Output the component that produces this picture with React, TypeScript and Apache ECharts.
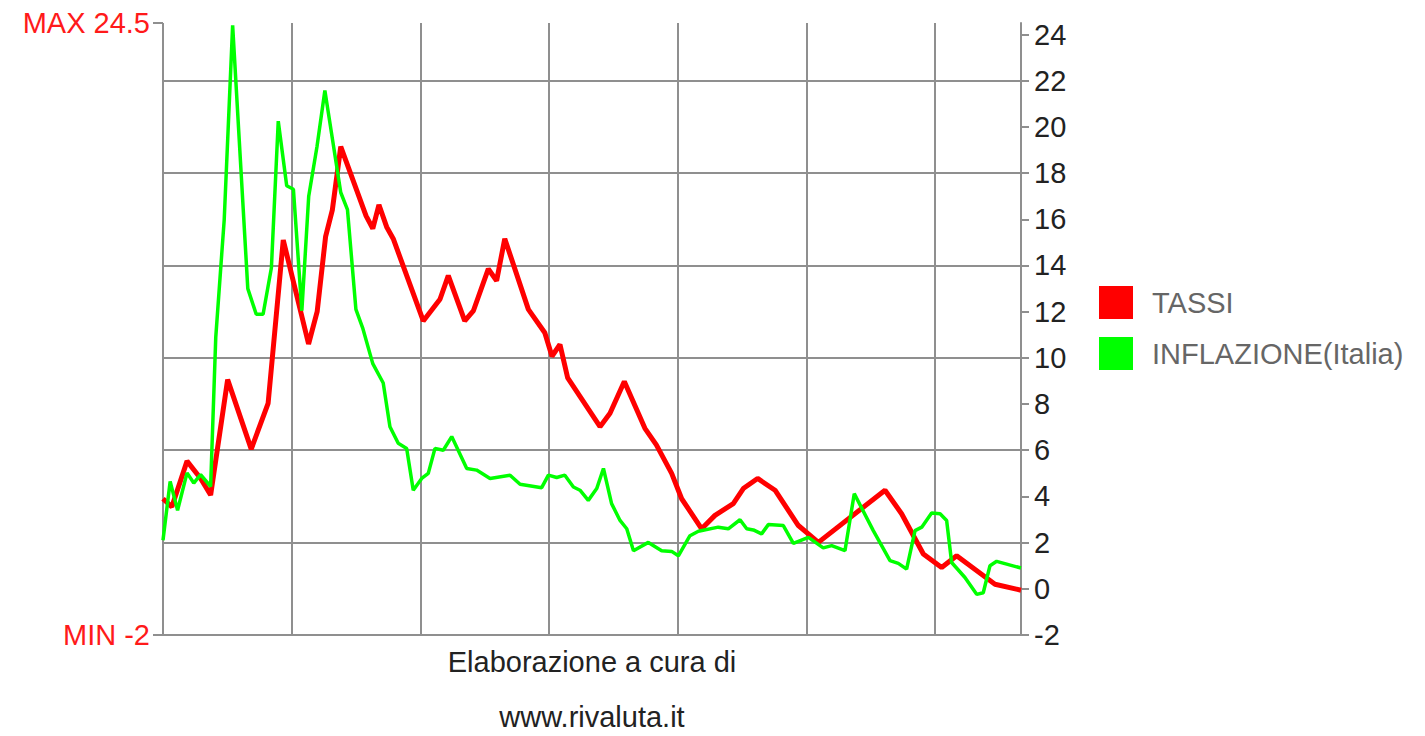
import React, { useEffect, useRef } from "react";
import * as echarts from "echarts";

// Position along the time axis (arbitrary units, 0..60) and rate values (%)
const tassiX = [
  0, 0.62, 1.68, 2.62, 3.33, 4.52, 6.17, 7.35, 8.41, 10.18, 10.78, 11.37, 11.84, 12.43,
  14.2, 14.67, 15.1, 15.64, 16.1, 18.2, 19.37, 19.95, 21.1, 21.7, 22.75, 23.33, 23.9,
  25.55, 26.7, 27.2, 27.76, 28.3, 30.56, 31.26, 32.26, 33.7, 34.5, 35.57, 36.27, 37.67,
  38.6, 39.88, 40.58, 41.58, 42.8, 44.43, 45.83, 50.49, 51.65, 53.17, 54.45, 55.5, 58.18, 60,
];
const tassiY = [
  3.9, 3.55, 5.53, 4.79, 4.06, 9.06, 6.05, 8.03, 15.1, 10.6, 12.0, 15.25, 16.4, 19.15,
  16.15, 15.6, 16.63, 15.67, 15.16, 11.6, 12.54, 13.56, 11.6, 12.03, 13.85, 13.34, 15.16,
  12.1, 11.09, 10.07, 10.58, 9.13, 7.02, 7.6, 8.98, 6.95, 6.23, 5.0, 3.9, 2.6,
  3.18, 3.69, 4.34, 4.78, 4.27, 2.74, 2.01, 4.27, 3.25, 1.51, 0.92, 1.43, 0.2, -0.06,
];

const inflX = [
  0, 0.5, 1.02, 1.68, 2.15, 2.63, 3.33, 3.69, 4.28, 4.87, 5.93, 6.52, 7.0, 7.58, 8.06,
  8.65, 9.12, 9.71, 10.19, 10.77, 11.32, 12.43, 12.9, 13.49, 13.96, 14.67, 15.4, 15.87,
  16.45, 17.04, 17.5, 18.09, 18.55, 19.02, 19.6, 20.19, 21.24, 21.93, 22.87, 24.27, 24.97,
  26.48, 26.95, 27.53, 28.1, 28.7, 29.16, 29.74, 30.33, 30.8, 31.37, 31.96, 32.43, 32.9,
  33.94, 34.87, 35.57, 36.04, 36.85, 37.44, 38.83, 39.53, 40.35, 40.82, 41.28, 41.86,
  42.33, 43.38, 44.08, 45.13, 46.17, 46.76, 47.69, 48.34, 49.67, 50.84, 51.42, 52.0,
  52.59, 53.06, 53.75, 54.34, 54.8, 55.15, 56.08, 56.9, 57.36, 57.83, 58.3, 60,
];
const inflY = [
  2.1, 4.65, 3.4, 5.02, 4.58, 4.94, 4.43, 10.9, 15.98, 24.4, 13.0, 11.89, 11.89, 13.9, 20.25,
  17.45, 17.3, 12.04, 17.0, 19.15, 21.58, 17.16, 16.42, 12.1, 11.3, 9.75, 8.91, 7.02,
  6.3, 6.08, 4.27, 4.78, 5.0, 6.08, 6.0, 6.59, 5.21, 5.14, 4.78, 4.92, 4.53,
  4.38, 4.92, 4.82, 4.92, 4.41, 4.27, 3.83, 4.34, 5.21, 3.69, 2.96, 2.6, 1.65,
  2.01, 1.65, 1.62, 1.43, 2.3, 2.49, 2.67, 2.6, 2.99, 2.6, 2.55, 2.38,
  2.78, 2.74, 1.97, 2.23, 1.77, 1.87, 1.65, 4.12, 2.52, 1.22, 1.1, 0.85,
  2.52, 2.67, 3.28, 3.25, 2.96, 1.14, 0.49, -0.24, -0.17, 1.0, 1.19, 0.9,
];

const seriesNames = ["TASSI", "INFLAZIONE(Italia)"];
const seriesColors = ["#ff0000", "#00ff00"];
const yMin = -2;
const yMax = 24.5;
const yLabelStep = 2;
const xMin = 0;
const xMax = 60;
const xGridStep = 9;
const extremeLabels = [
  { value: yMax, text: `MAX ${yMax}` },
  { value: yMin, text: `MIN ${yMin}` },
];
const creditLines = ["Elaborazione a cura di", "www.rivaluta.it"];

export default function App() {
  const ref = useRef<HTMLDivElement>(null);

  useEffect(() => {
    if (!ref.current) return;
    const chart = echarts.init(ref.current, null, { renderer: "svg" });
    const font = "'Liberation Sans', Arial, Helvetica, sans-serif";
    const grayColor = "#8f8f8f";
    const gray = { color: grayColor, width: 2 };
    const zip = (xs: number[], ys: number[]) => xs.map((x, i) => [x, ys[i]]);

    chart.setOption({
      animation: false,
      backgroundColor: "#ffffff",
      textStyle: { fontFamily: font },
      grid: { left: 163, right: 404, top: 23, bottom: 101 },
      xAxis: {
        type: "value",
        min: xMin,
        max: xMax,
        interval: xGridStep,
        axisLine: { show: true, onZero: false, lineStyle: gray },
        axisTick: { show: false },
        axisLabel: { show: false },
        splitLine: { show: true, lineStyle: gray },
      },
      yAxis: {
        type: "value",
        position: "right",
        min: yMin,
        max: yMax,
        interval: yLabelStep,
        axisLine: { show: true, onZero: false, lineStyle: gray },
        axisTick: { show: true, length: 8, lineStyle: gray },
        axisLabel: {
          margin: 13,
          fontSize: 29,
          color: "#222",
          fontFamily: font,
          showMaxLabel: false,
        },
        // every other label line is drawn: lines at -2, 2, 6, ..., 22
        splitLine: {
          show: true,
          showMinLine: true,
          showMaxLine: false,
          lineStyle: { color: [grayColor, "rgba(0,0,0,0)"], width: 2 },
        },
      },
      legend: {
        orient: "vertical",
        left: 1099,
        top: 286,
        padding: 0,
        itemWidth: 34,
        itemHeight: 33,
        itemGap: 18,
        icon: "rect",
        data: seriesNames,
        itemStyle: { borderWidth: 0 },
        textStyle: { fontSize: 29, color: "#666", fontFamily: font, padding: [0, 0, 0, 14] },
      },
      series: [
        {
          name: seriesNames[0],
          type: "line",
          showSymbol: false,
          symbol: "none",
          color: seriesColors[0],
          itemStyle: { color: seriesColors[0] },
          lineStyle: { color: seriesColors[0], width: 5 },
          data: zip(tassiX, tassiY),
        },
        {
          name: seriesNames[1],
          type: "line",
          showSymbol: false,
          symbol: "none",
          color: seriesColors[1],
          itemStyle: { color: seriesColors[1] },
          lineStyle: { color: seriesColors[1], width: 3.5 },
          data: zip(inflX, inflY),
        },
      ],
    });

    // Left-side MIN/MAX labels with their tick marks and the credit lines,
    // positioned from the chart's own scales
    const leftX = chart.convertToPixel({ xAxisIndex: 0 }, xMin) as number;
    const rightX = chart.convertToPixel({ xAxisIndex: 0 }, xMax) as number;
    const bottomY = chart.convertToPixel({ yAxisIndex: 0 }, yMin) as number;
    const centerX = (leftX + rightX) / 2;
    const extremeEls: any[] = [];
    extremeLabels.forEach((e) => {
      const y = chart.convertToPixel({ yAxisIndex: 0 }, e.value) as number;
      extremeEls.push({
        type: "line",
        shape: { x1: leftX - 10, y1: y, x2: leftX, y2: y },
        style: { stroke: grayColor, lineWidth: 2 },
        silent: true,
      });
      extremeEls.push({
        type: "text",
        x: leftX - 13,
        y,
        style: {
          text: e.text,
          fontSize: 29,
          fontFamily: font,
          fill: "#ff1a1a",
          align: "right",
          verticalAlign: "middle",
        },
        silent: true,
      });
    });
    const creditEls = creditLines.map((t, i) => ({
      type: "text",
      x: centerX,
      y: bottomY + 27 + i * 55,
      style: {
        text: t,
        fontSize: 29,
        fontFamily: font,
        fill: "#222",
        align: "center",
        verticalAlign: "middle",
      },
      silent: true,
    }));
    chart.setOption({ graphic: [...extremeEls, ...creditEls] });

    return () => chart.dispose();
  }, []);

  return (
    <div
      ref={ref}
      style={{ position: "fixed", left: 0, top: 0, width: 1425, height: 736, background: "#fff" }}
    />
  );
}
